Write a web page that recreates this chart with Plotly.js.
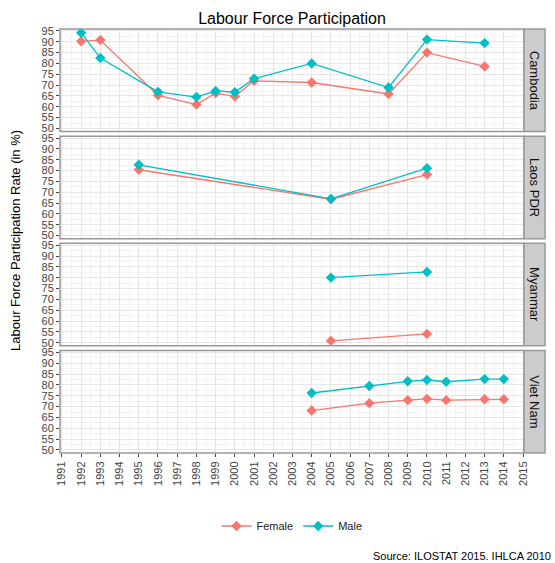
<!DOCTYPE html>
<html>
<head>
<meta charset="utf-8">
<script src="https://cdn.plot.ly/plotly-3.0.1.min.js"></script>
<style>html,body{margin:0;padding:0;background:#fff;}#chart{width:555px;height:563px;}</style>
</head>
<body>
<div id="chart"></div>
<script>
// Data
const countries = ["Cambodia", "Laos PDR", "Myanmar", "Viet Nam"];
const seriesNames = ["Female", "Male"];
const seriesColors = ["#F8766D", "#00BFC4"];

const cambodiaYears = [1992, 1993, 1996, 1998, 1999, 2000, 2001, 2004, 2008, 2010, 2013];
const cambodiaFemale = [90.2, 90.8, 65.3, 61.0, 66.3, 64.8, 72.0, 71.2, 65.9, 85.0, 78.6];
const cambodiaMale = [94.2, 82.5, 66.9, 64.5, 67.3, 66.7, 73.0, 80.0, 68.9, 91.0, 89.4];

const laosYears = [1995, 2005, 2010];
const laosFemale = [80.4, 66.8, 78.2];
const laosMale = [82.7, 67.0, 81.1];

const myanmarYears = [2005, 2010];
const myanmarFemale = [50.9, 54.1];
const myanmarMale = [80.1, 82.7];

const vietnamYears = [2004, 2007, 2009, 2010, 2011, 2013, 2014];
const vietnamFemale = [68.2, 71.6, 73.0, 73.6, 73.0, 73.4, 73.4];
const vietnamMale = [76.3, 79.5, 81.7, 82.3, 81.5, 82.7, 82.7];

const yTicks = [50, 55, 60, 65, 70, 75, 80, 85, 90, 95];
const xTicks = [];
for (let y = 1991; y <= 2015; y++) xTicks.push(y);

const panelData = [
  {years: cambodiaYears, f: cambodiaFemale, m: cambodiaMale},
  {years: laosYears, f: laosFemale, m: laosMale},
  {years: myanmarYears, f: myanmarFemale, m: myanmarMale},
  {years: vietnamYears, f: vietnamFemale, m: vietnamMale}
];

const traces = [];
panelData.forEach((p, i) => {
  const ya = i === 0 ? 'y' : 'y' + (i + 1);
  [p.f, p.m].forEach((vals, s) => {
    traces.push({
      x: p.years, y: vals, xaxis: 'x', yaxis: ya,
      type: 'scatter', mode: 'lines+markers',
      name: seriesNames[s], legendgroup: seriesNames[s],
      showlegend: i === 0,
      line: {color: seriesColors[s], width: 1.3},
      marker: {color: seriesColors[s], symbol: 'diamond', size: 8}
    });
  });
});

// Layout geometry
const H = 424; // plot height in px
const gap = 4.7;
const ph = (H - 3 * gap) / 4;
const domains = [];
for (let i = 0; i < 4; i++) {
  const top = H - i * (ph + gap);
  domains.push([(top - ph) / H, top / H]);
}

const tickFont = {family: 'Liberation Sans, Arial, sans-serif', size: 11, color: '#444'};
const gridColor = '#e6e6e6';
const minorGrid = '#f3f3f3';

const layout = {
  width: 555, height: 563,
  margin: {l: 60, r: 31, t: 29, b: 110},
  paper_bgcolor: '#fff', plot_bgcolor: '#fff',
  font: {family: 'Liberation Sans, Arial, sans-serif', color: '#000'},
  title: {text: 'Labour Force Participation', x: 0.5, xref: 'paper', xanchor: 'center',
          y: 1 - 18 / 563, yanchor: 'middle', font: {size: 16, color: '#000'}},
  showlegend: true,
  legend: {orientation: 'h', x: 0.5, xanchor: 'center', y: -73 / H, yanchor: 'middle',
           font: {size: 11, color: '#222'}, itemwidth: 30},
  xaxis: {
    range: [1990.9, 2015.05], anchor: 'y4', tickvals: xTicks, ticktext: xTicks.map(String),
    tickangle: -90, tickfont: tickFont, ticks: 'outside', ticklen: 3, tickcolor: '#444',
    showgrid: true, gridcolor: gridColor, gridwidth: 1, zeroline: false, showline: false,
    minor: {dtick: 0.5, tick0: 1990.5, showgrid: true, gridcolor: minorGrid, gridwidth: 1},
    fixedrange: true
  },
  shapes: [],
  annotations: [
    {text: 'Labour Force Participation Rate (in %)', xref: 'paper', yref: 'paper',
     x: -45 / 464, y: 0.5, xanchor: 'center', yanchor: 'middle', textangle: -90,
     showarrow: false, font: {size: 13, color: '#000'}},
    {text: 'Source: ILOSTAT 2015. IHLCA 2010', xref: 'paper', yref: 'paper',
     x: 493 / 464, y: -103 / H, xanchor: 'right', yanchor: 'middle',
     showarrow: false, font: {size: 11, color: '#000'}}
  ]
};

for (let i = 0; i < 4; i++) {
  const key = i === 0 ? 'yaxis' : 'yaxis' + (i + 1);
  const yref = i === 0 ? 'y' : 'y' + (i + 1);
  layout[key] = {
    domain: domains[i], anchor: 'x', range: [48.6, 95.9],
    tickvals: yTicks, ticktext: yTicks.map(String), tickfont: tickFont,
    ticks: 'outside', ticklen: 3, tickcolor: '#444',
    showgrid: true, gridcolor: gridColor, gridwidth: 1, zeroline: false, showline: false,
    minor: {dtick: 2.5, tick0: 47.5, showgrid: true, gridcolor: minorGrid, gridwidth: 1},
    fixedrange: true
  };
  // panel border
  layout.shapes.push({type: 'rect', xref: 'x domain', yref: yref + ' domain',
    x0: 0, x1: 1, y0: 0, y1: 1, line: {color: '#999', width: 1.5}, fillcolor: 'rgba(0,0,0,0)', layer: 'above'});
  // strip
  layout.shapes.push({type: 'rect', xref: 'paper', yref: yref + ' domain',
    x0: 1.0, x1: 21 / 464 + 1.0, y0: 0, y1: 1, line: {color: '#999', width: 1.5}, fillcolor: '#cccccc', layer: 'above'});
  layout.annotations.push({text: countries[i], xref: 'paper', yref: yref + ' domain',
    x: 1 + 10.5 / 464, y: 0.5, xanchor: 'center', yanchor: 'middle', textangle: 90,
    showarrow: false, font: {size: 13, color: '#111'}});
}

Plotly.newPlot('chart', traces, layout, {displayModeBar: false, staticPlot: true});
</script>
</body>
</html>
